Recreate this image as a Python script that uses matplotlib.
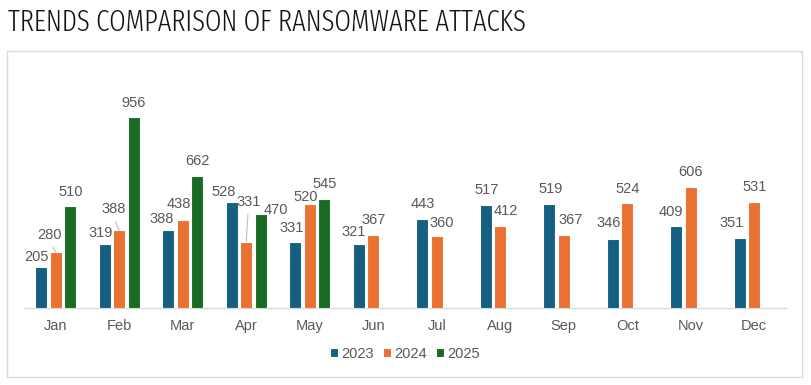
import matplotlib.pyplot as plt
import matplotlib.patches as mpatches
from matplotlib import font_manager as fm
import numpy as np

plt.rcParams['font.family'] = ['Liberation Sans', 'DejaVu Sans']

months = ['Jan', 'Feb', 'Mar', 'Apr', 'May', 'Jun', 'Jul', 'Aug', 'Sep', 'Oct', 'Nov', 'Dec']
years = ['2023', '2024', '2025']
attacks_2023 = [205, 319, 388, 528, 331, 321, 443, 517, 519, 346, 409, 351]
attacks_2024 = [280, 388, 438, 331, 520, 367, 360, 412, 367, 524, 606, 531]
attacks_2025 = [510, 956, 662, 470, 545]

colors = ['#156082', '#e97132', '#196b24']
label_color = '#595959'

# label offsets (pixels from bar top centre), per series, as placed in the original
offsets_2023 = [(-5, 10), (-4, 11), (-7, 11), (-8, 10), (-4, 14), (-5, 12),
                (1, 15), (1, 15), (1, 15), (-4, 16), (-5, 14), (-8, 15)]
offsets_2024 = [(-6, 17), (-6, 21), (-4, 16), (2, 40), (-4, 7), (0, 15),
                (5, 13), (6, 15), (7, 15), (0, 14), (0, 15), (0, 15)]
offsets_2025 = [(0, 14), (0, 14), (0, 15), (15, 4), (0, 15)]
leaders = {(1, 0), (1, 1), (1, 3)}  # (series, month) with leader line

STRETCH = {'ultra-condensed': 100, 'extra-condensed': 200, 'condensed': 300,
           'semi-condensed': 400, 'normal': 500}


def narrow_font():
    # the title is set in a narrow face; pick the narrowest installed sans
    best = None
    for f in fm.fontManager.ttflist:
        if f.style != 'normal':
            continue
        s = f.stretch
        s = int(s) if str(s).isdigit() else STRETCH.get(str(s), 500)
        if 'Narrow' in f.name or 'Condensed' in f.name:
            s = min(s, 300)
        if 'ExtraCondensed' in f.fname or 'Extra Condensed' in f.name:
            s = min(s, 200)
        if s >= 500:
            continue
        try:
            w = int(f.weight)
        except ValueError:
            w = {'light': 300, 'normal': 400, 'regular': 400, 'book': 400}.get(str(f.weight), 700)
        score = s + abs(w - 350) / 4
        if best is None or score < best[0]:
            best = (score, f.fname)
    if best:
        return fm.FontProperties(fname=best[1])
    return fm.FontProperties(family='DejaVu Sans')


W, H = 811, 385
fig = plt.figure(figsize=(W / 100, H / 100), dpi=100)
ax = fig.add_axes([24 / W, (H - 308) / H, (786 - 24) / W, (308 - 68) / H])

# outer chart frame
fig.patches.append(mpatches.Rectangle((7 / W, 8 / H), 795 / W, 326 / H,
                                      transform=fig.transFigure, fill=False,
                                      edgecolor='#d9d9d9', linewidth=1))

tp = narrow_font()
tp.set_size(21)
title = fig.text(8 / W, (H - 31) / H, 'TRENDS COMPARISON OF RANSOMWARE ATTACKS',
                 fontproperties=tp, color='#141414', va='baseline', ha='left')
fig.canvas.draw()
tw = title.get_window_extent().width
title.set_fontsize(min(21, 21 * 520 / tw))

x = np.arange(len(months))
step = 0.228
series = [attacks_2023, attacks_2024, attacks_2025]
offsets = [offsets_2023, offsets_2024, offsets_2025]
for i, (vals, offs) in enumerate(zip(series, offsets)):
    xs = x[:len(vals)] + (i - 1) * step
    ax.bar(xs, vals, width=0.19, color=colors[i], edgecolor='white',
           linewidth=0.8, label=years[i], zorder=3)
    for j, (xx, v) in enumerate(zip(xs, vals)):
        dx, dy = offs[j]
        kw = {}
        if (i, j) in leaders:
            kw['arrowprops'] = dict(arrowstyle='-', color='#bfbfbf', lw=0.8,
                                    shrinkA=2, shrinkB=0, relpos=(0.5, 0))
        ax.annotate(str(v), xy=(xx, v), xytext=(dx, dy), textcoords='offset pixels',
                    ha='center', va='center', fontsize=10.5, color=label_color, **kw)

ax.set_xlim(-0.5, 11.5)
ax.set_ylim(0, 1200)
ax.set_xticks(x)
ax.set_xticklabels(months, fontsize=10.5, color=label_color)
ax.tick_params(axis='x', length=0, pad=8)
ax.set_yticks([])
for s in ['top', 'left', 'right']:
    ax.spines[s].set_visible(False)
ax.spines['bottom'].set_color('#d9d9d9')
ax.spines['bottom'].set_linewidth(1)

ax.legend(loc='center', bbox_to_anchor=(0.5, (354 - 308) / -240.0), ncol=3,
          frameon=False, fontsize=10.5, labelcolor=label_color,
          handlelength=0.55, handleheight=0.55, handletextpad=0.25, columnspacing=0.6)

fig.savefig('out.png', dpi=100, facecolor='white')
